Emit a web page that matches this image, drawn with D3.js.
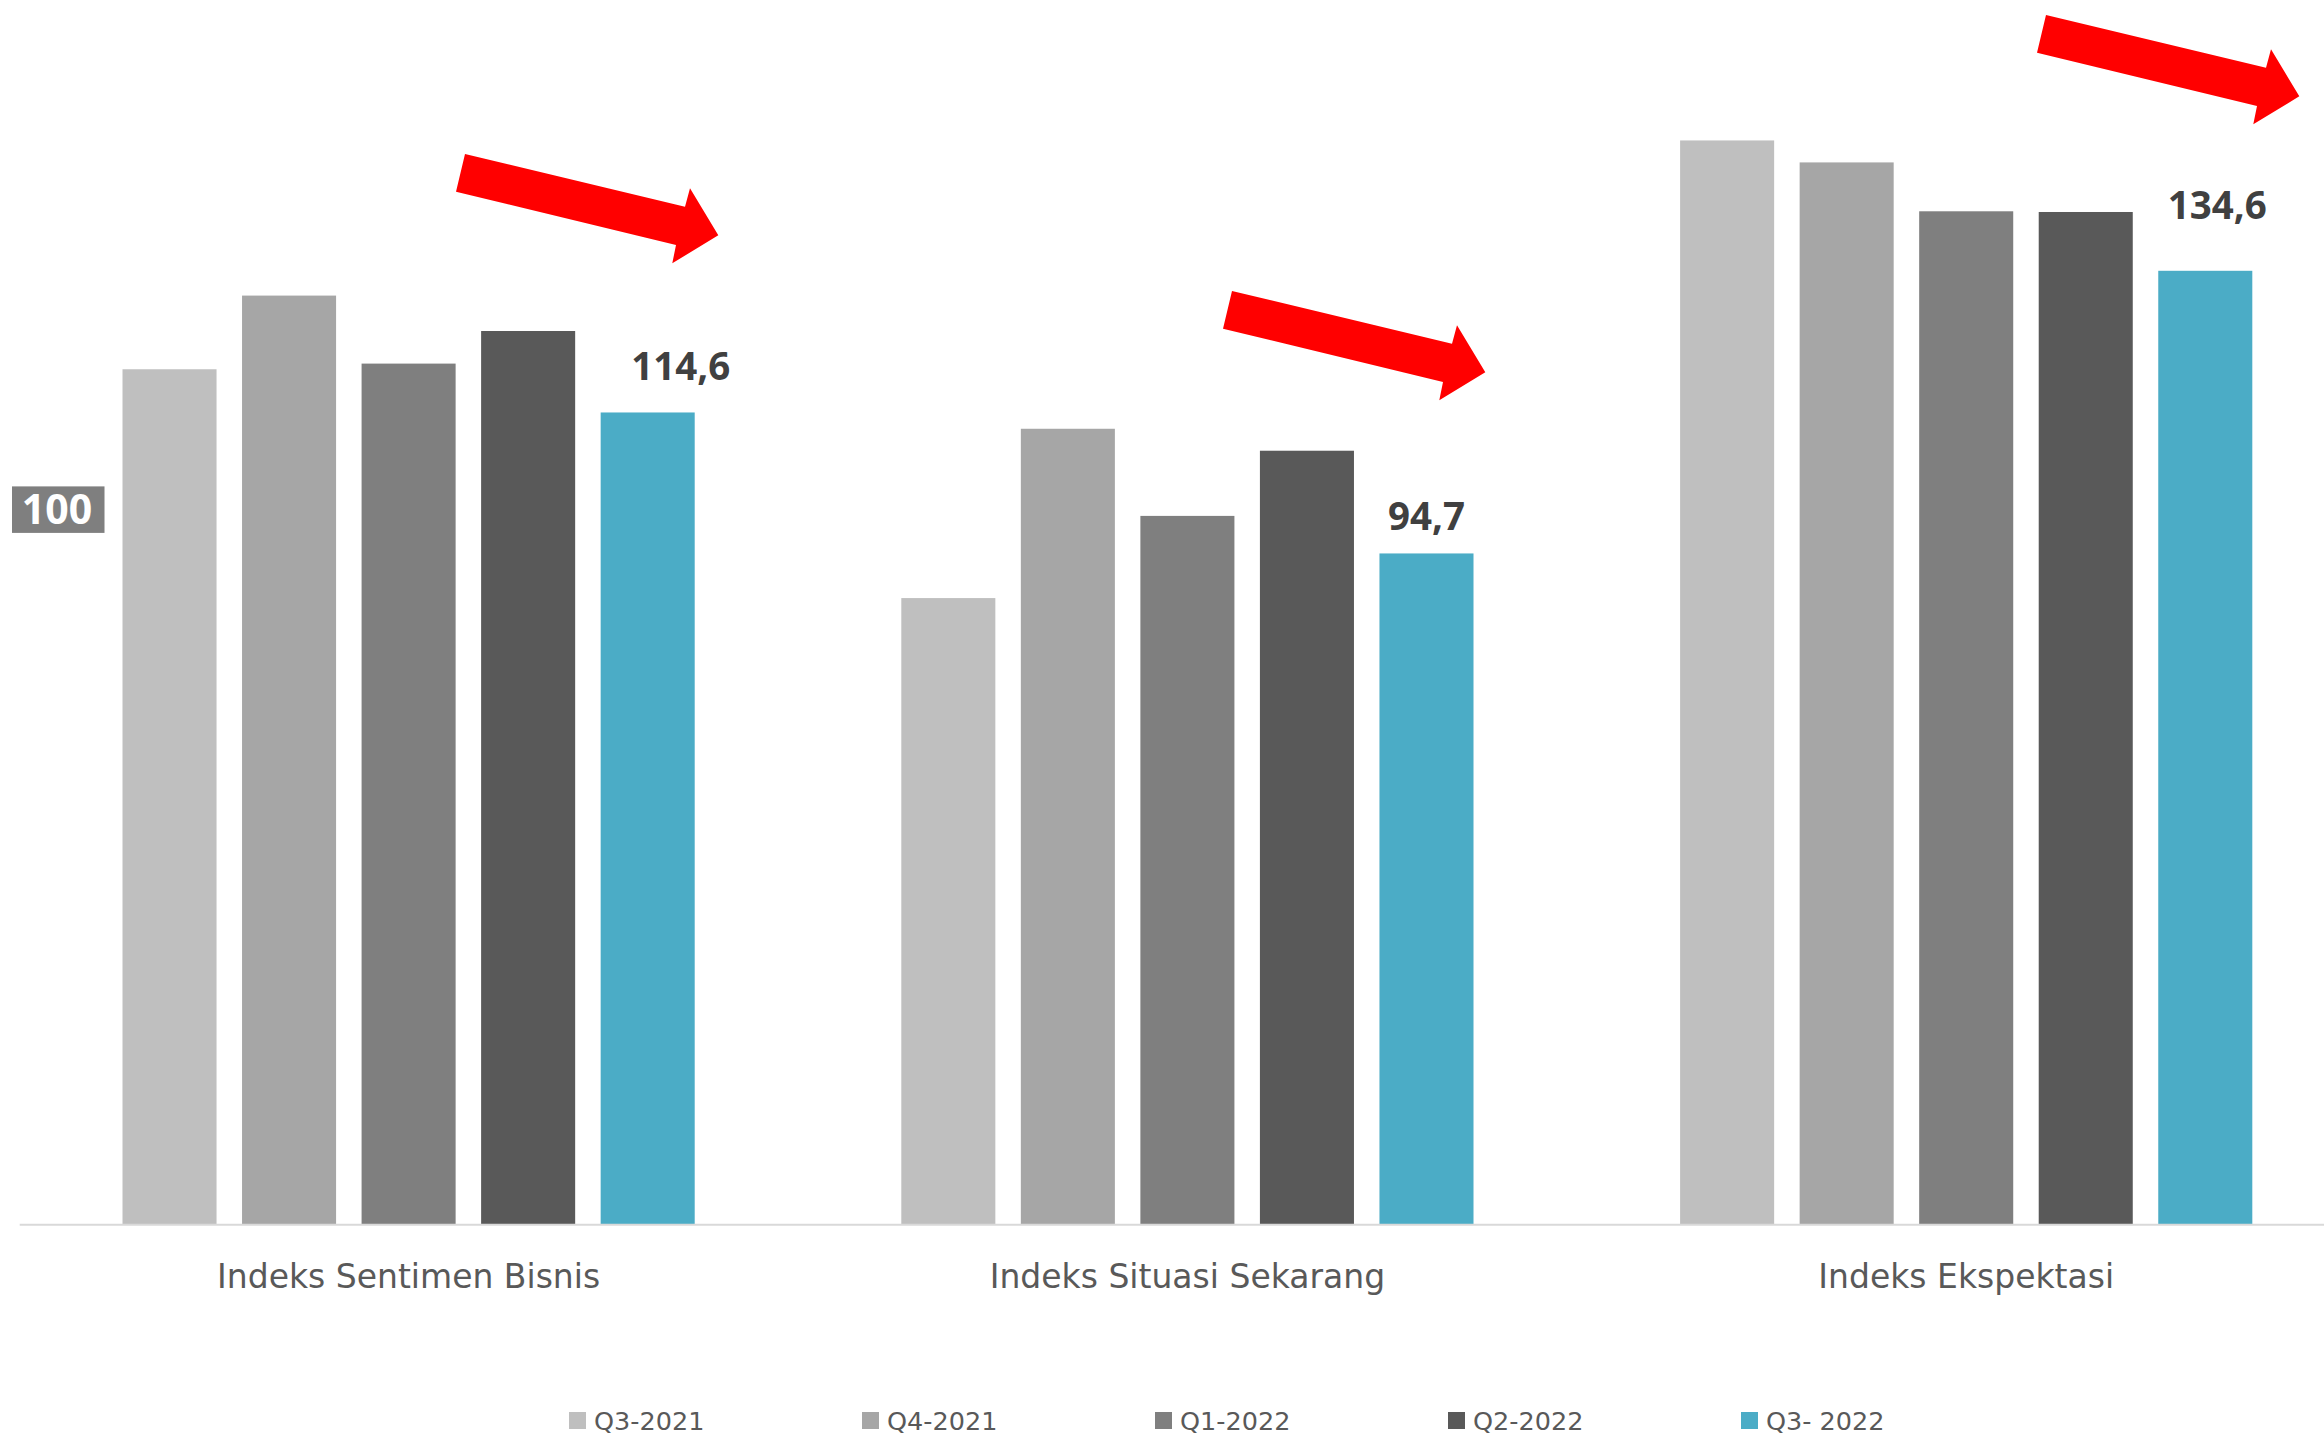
<!DOCTYPE html>
<html>
<head>
<meta charset="utf-8">
<script src="https://cdn.jsdelivr.net/npm/d3@7"></script>
<style>
  html, body { margin: 0; padding: 0; background: #ffffff; }
  svg { display: block; }
</style>
</head>
<body>
<svg id="chart" width="2324" height="1436"></svg>
<script>
// Index categories and survey periods
const categories = ["Indeks Sentimen Bisnis", "Indeks Situasi Sekarang", "Indeks Ekspektasi"];
const periods = ["Q3-2021", "Q4-2021", "Q1-2022", "Q2-2022", "Q3- 2022"];

// Index values per period, one array per period, ordered like `categories`
const q3_2021 = [120.7, 88.4, 153.0];
const q4_2021 = [131.1, 112.3, 149.9];
const q1_2022 = [121.5, 100.0, 143.0];
const q2_2022 = [126.1, 109.2, 142.9];
const q3_2022 = [114.6, 94.7, 134.6];

// Reference level marked on the left
const referenceLevel = 100;

const seriesValues = [q3_2021, q4_2021, q1_2022, q2_2022, q3_2022];
const palette = ["#bfbfbf", "#a6a6a6", "#7f7f7f", "#595959", "#4bacc6"];

// Hand-placed nudges for the latest-period value labels (px)
const labelNudge = [
  { dx: 33, dy: -32 },
  { dx: 0, dy: -23 },
  { dx: 12, dy: -52 }
];
// Trend arrows: placement of each arrow's tail (px)
const arrowAt = [
  { x: 465, y: 154 },
  { x: 1232, y: 291 },
  { x: 2046, y: 15 }
];

const svg = d3.select("#chart");

const baseY = 1224.3;
const y = d3.scaleLinear().domain([0, 160]).range([baseY, baseY - 160 * 7.084]);

const x0 = d3.scaleBand().domain(categories).range([19.2, 19.2 + 3 * 778.8]).paddingInner(0).paddingOuter(0);
const clusterW = 572.2;
const x1 = d3.scaleBand().domain(periods).range([0, clusterW]).paddingInner(0.2133).paddingOuter(0);
const color = d3.scaleOrdinal().domain(periods).range(palette);

const rows = [];
periods.forEach((p, si) => {
  categories.forEach((c, ci) => {
    rows.push({ period: p, category: c, value: seriesValues[si][ci], ci, si });
  });
});

const clusterX = c => x0(c) + (x0.bandwidth() - clusterW) / 2;

// Bars
svg.append("g").selectAll("rect")
  .data(rows)
  .join("rect")
  .attr("x", d => clusterX(d.category) + x1(d.period))
  .attr("y", d => y(d.value))
  .attr("width", x1.bandwidth())
  .attr("height", d => y(0) - y(d.value))
  .attr("fill", d => color(d.period));

// Category axis
const axis = svg.append("g")
  .attr("transform", `translate(0,${baseY})`)
  .call(d3.axisBottom(x0).tickSize(0).tickSizeOuter(0));
axis.select(".domain").attr("stroke", "#d9d9d9").attr("stroke-width", 2);
axis.selectAll(".tick text")
  .attr("y", 64)
  .attr("dy", 0)
  .attr("fill", "#595959")
  .style("font-family", "'DejaVu Sans', sans-serif")
  .style("font-size", "33px");

// Value labels on the latest period
const last = periods[periods.length - 1];
svg.append("g").selectAll("text")
  .data(rows.filter(d => d.period === last))
  .join("text")
  .attr("x", d => clusterX(d.category) + x1(d.period) + x1.bandwidth() / 2 + labelNudge[d.ci].dx)
  .attr("y", d => y(d.value) + labelNudge[d.ci].dy)
  .attr("text-anchor", "middle")
  .attr("fill", "#404040")
  .style("font-family", "'Noto Sans', 'Open Sans', sans-serif")
  .style("font-weight", "bold")
  .style("font-size", "38.5px")
  .text(d => d3.format(".1f")(d.value).replace(".", ","));

// Reference level badge
const refG = svg.append("g").attr("transform", `translate(58,${y(referenceLevel) - 6})`);
refG.append("rect")
  .attr("x", -46).attr("y", -23.5)
  .attr("width", 92.5).attr("height", 46.5)
  .attr("fill", "#7f7f7f");
refG.append("text")
  .attr("x", -1).attr("y", 14.5)
  .attr("text-anchor", "middle")
  .attr("fill", "#ffffff")
  .style("font-family", "'Noto Sans', 'Open Sans', sans-serif")
  .style("font-weight", "bold")
  .style("font-size", "41px")
  .text(referenceLevel);

// Red block arrows signalling the downward trend
const arrowShape = [[0, 0], [220, 52.7], [225, 34.3], [253.3, 81.3], [207.3, 109.3], [211, 91], [-9, 37.7]];
svg.append("g").selectAll("path")
  .data(arrowAt)
  .join("path")
  .attr("transform", d => `translate(${d.x},${d.y})`)
  .attr("d", d3.line()(arrowShape) + "Z")
  .attr("fill", "#ff0000");

// Legend
const legend = svg.append("g").selectAll("g")
  .data(periods)
  .join("g")
  .attr("transform", (d, i) => `translate(${569 + i * 293},1412)`);
legend.append("rect")
  .attr("width", 17).attr("height", 17)
  .attr("fill", d => color(d));
legend.append("text")
  .attr("x", 25).attr("y", 18)
  .attr("fill", "#595959")
  .style("font-family", "'DejaVu Sans', sans-serif")
  .style("font-size", "25.5px")
  .text(d => d);
</script>
</body>
</html>
